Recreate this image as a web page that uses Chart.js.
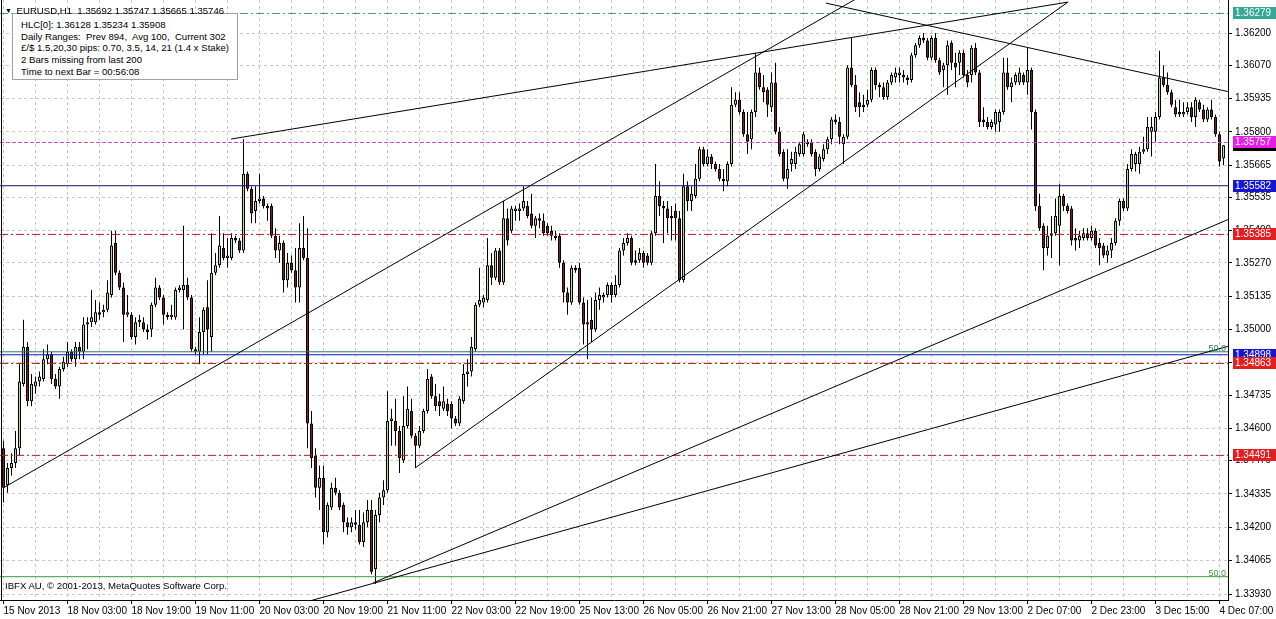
<!DOCTYPE html>
<html>
<head>
<meta charset="utf-8">
<title>EURUSD,H1</title>
<script src="https://cdn.jsdelivr.net/npm/chart.js@4.4.0/dist/chart.umd.min.js"></script>
<style>
  html, body { margin: 0; padding: 0; background: #fff; }
  #wrap { position: relative; width: 1276px; height: 619px; overflow: hidden; }
  #chart { display: block; }
  .txt { position: absolute; font: 9.6px "Liberation Sans", Arial, sans-serif; color: #000; white-space: pre; line-height: 12px; }
  #symbol { left: 5px; top: 5px; }
  #symbol .tri { font-size: 7px; vertical-align: 1px; margin-right: 2px; }
  #infoBox { left: 12px; top: 13px; width: 226px; height: 67px; background: #fff; border: 1px solid #a0a0a0;
             box-sizing: border-box; padding: 5px 0 0 8px; line-height: 11.7px; }
  #copyright { left: 5px; top: 580px; }
</style>
</head>
<body>
<div id="wrap">
  <canvas id="chart" width="1276" height="619"></canvas>
  <div class="txt" id="infoBox">HLC[0]: 1.36128 1.35234 1.35908
Daily Ranges:  Prev 894,  Avg 100,  Current 302
£/$ 1.5,20,30 pips: 0.70, 3.5, 14, 21 (1.4 x Stake)
2 Bars missing from last 200
Time to next Bar = 00:56:08</div>
  <div class="txt" id="symbol"><span class="tri">▼</span> EURUSD,H1  1.35692 1.35747 1.35665 1.35746</div>
  <div class="txt" id="copyright">IBFX AU, © 2001-2013, MetaQuotes Software Corp.</div>
</div>
<script>
// EURUSD H1 bars, 15 Nov 2013 -> 4 Dec 2013
// prices kept as pips above 1.3000 (452 -> 1.3452)
const opens = [
  452,437,444,446,452,478,493,471,477,479, 480,488,490,480,477,484,486,491,488,493,
  491,502,503,503,507,507,508,514,535,523, 517,506,506,497,503,503,500,500,510,517,
  513,506,505,505,516,516,518,513,492,491, 499,509,497,523,526,533,529,529,537,536,
  532,563,557,548,552,553,550,550,538,532, 535,520,527,524,517,533,529,462,449,436,
  440,418,428,436,434,429,422,420,422,421, 414,422,427,403,425,432,435,463,463,459,
  447,461,467,457,453,459,467,481,473,471, 468,470,470,464,462,471,482,483,492,510,
  511,512,526,521,532,519,545,540,548,548, 549,550,547,542,545,544,542,540,538,538,
  527,515,511,525,525,511,502,504,500,512, 513,514,518,514,518,532,535,537,528,528,
  531,530,527,539,554,550,549,546,548,545, 520,558,552,554,561,573,567,570,567,565,
  561,560,567,591,593,588,579,577,588,604, 598,597,590,600,580,572,561,567,567,571,
  571,576,576,572,565,569,573,577,585,584, 575,578,606,599,592,591,591,593,605,599,
  598,594,600,602,603,603,602,601,611,615, 618,617,610,618,609,605,607,616,608,608,
  612,603,603,614,604,585,584,582,583,584, 588,604,598,600,600,603,600,605,588,550,
  542,533,539,539,542,554,550,549,537,536, 537,539,537,540,535,534,530,532,535,544,
  552,549,565,567,567,572,573,580,580,586, 602,599,596,590,588,587,588,590,586,592,
  589,585,589,586,579,569.2
];
const highs = [
  455,446,450,459,486,504,495,482,481,483, 492,494,491,482,485,489,495,492,495,495,
  505,505,516,512,511,510,520,540,540,524, 519,514,507,505,506,505,502,511,521,518,
  514,507,510,517,518,542,521,514,493,505, 509,520,539,531,546,539,537,539,538,537,
  577,564,558,558,563,554,551,551,541,538, 536,531,530,533,543,546,541,467,452,445,
  445,430,438,440,435,430,424,424,427,427, 426,431,431,427,434,439,475,468,472,461,
  473,477,472,458,461,468,484,482,478,474, 477,472,471,465,473,486,488,497,511,525,
  514,537,531,533,533,552,549,550,550,551, 558,552,555,546,547,547,543,542,540,539,
  528,517,526,526,527,513,512,513,515,517, 515,519,519,522,533,537,539,538,532,533,
  532,531,540,567,560,552,552,550,551,548, 563,560,558,567,574,574,573,571,568,567,
  565,568,598,596,596,589,588,589,612,606, 603,598,604,608,582,573,573,572,574,576,
  580,577,577,573,571,575,578,586,587,586, 579,607,618,603,596,595,597,606,606,600,
  600,601,604,606,606,605,603,612,616,619, 620,618,619,620,610,608,617,617,612,613,
  613,605,615,616,605,590,586,585,589,589, 610,610,602,604,606,604,614,606,589,555,
  543,542,546,553,559,555,551,550,541,540, 541,541,542,541,537,535,534,537,545,553,
  553,567,573,572,574,578,586,586,588,612.8, 607,604,597,593,593,592,592,592,594,593,
  591,590,593,587,580,574.7
];
const lows = [
  430,434,441,444,449,477,469,469,474,477, 479,486,478,476,472,483,485,487,485,488,
  488,492,501,502,504,505,507,513,522,516, 495,505,496,494,501,499,496,497,509,512,
  502,504,504,504,515,500,512,491,490,486, 490,490,491,522,525,528,525,528,535,531,
  531,556,543,543,551,549,544,537,529,527, 515,517,523,511,511,528,452,444,432,427,
  413,416,427,433,427,418,417,418,419,413, 412,420,401,397,422,429,434,453,453,442,
  446,460,456,444,452,458,466,472,467,465, 467,465,460,461,461,470,477,481,491,509,
  509,511,518,520,518,518,534,539,544,544, 548,545,541,537,541,538,538,536,536,525,
  511,506,510,523,510,494,488,495,499,508, 511,513,511,513,517,530,534,526,526,527,
  525,526,526,538,546,535,539,536,536,519, 519,548,548,553,560,566,566,565,564,560,
  556,558,566,590,587,578,571,573,586,597, 592,586,588,579,570,560,557,564,565,570,
  570,574,570,562,564,568,571,575,583,575, 567,577,598,588,586,588,590,592,597,594,
  593,593,599,600,600,600,599,600,610,614, 616,609,609,608,603,598,595,605,598,603,
  602,598,600,603,582,582,581,581,580,580, 587,597,592,599,599,599,595,581,548,540,
  524,530,529,538,526,548,547,534,532,533, 536,536,536,533,526,529,527,529,534,542,
  548,548,564,564,563,571,572,570,576,585, 598,595,590,586,586,586,587,584,582,588,
  584,584,585,578,566,566.5
];
const closes = [
  436,444,446,452,479,493,471,478,479,481, 488,490,480,477,484,487,491,488,493,491,
  502,503,505,507,506,508,515,534,523,517, 506,507,497,503,504,500,499,510,517,513,
  506,505,506,516,517,518,513,492,491,499, 508,500,523,526,534,529,530,537,536,532,
  563,557,547,552,553,550,549,538,532,535, 520,527,524,517,533,529,462,448,436,440,
  418,429,436,434,428,422,420,422,421,414, 422,427,402,425,432,435,463,464,459,448,
  461,468,457,453,459,467,480,473,469,469, 471,467,464,462,472,482,483,493,510,512,
  513,526,521,532,519,545,536,549,549,549, 552,546,542,545,544,539,539,538,537,527,
  515,511,525,524,511,502,503,500,512,514, 514,518,514,518,532,535,537,527,527,531,
  527,527,539,554,550,549,545,545,545,520, 558,552,555,561,573,567,570,567,565,561,
  560,567,591,593,588,579,576,588,604,598, 596,591,600,580,571,561,565,569,572,575,
  579,575,571,565,570,573,577,585,584,578, 578,606,599,590,590,590,593,605,599,598,
  594,600,603,604,604,602,601,611,615,618, 617,610,618,609,604,607,615,608,606,612,
  603,600,614,604,584,584,582,584,588,588, 604,598,600,603,604,600,605,588,550,541,
  533,538,538,546,554,550,548,536,536,538, 539,537,540,534,533,530,532,535,544,552,
  549,565,571,571,572,573,582,582,586,602, 599,596,591,587,587,588,590,586,593,589,
  585,589,586,579,568,574.6
];

// time axis, one label every 16 bars
const timeLabels = [
  '15 Nov 2013', '18 Nov 03:00', '18 Nov 19:00', '19 Nov 11:00', '20 Nov 03:00',
  '20 Nov 19:00', '21 Nov 11:00', '22 Nov 03:00', '22 Nov 19:00', '25 Nov 13:00',
  '26 Nov 05:00', '26 Nov 21:00', '27 Nov 13:00', '28 Nov 05:00', '28 Nov 21:00',
  '29 Nov 13:00', '2 Dec 07:00', '2 Dec 23:00', '3 Dec 15:00', '4 Dec 07:00'
];
const priceTicks = [
  1.362, 1.3607, 1.35935, 1.358, 1.35665, 1.35535, 1.354, 1.3527, 1.35135,
  1.35, 1.34865, 1.34735, 1.346, 1.3447, 1.34335, 1.342, 1.34065, 1.3393
];

// horizontal levels (price tags on the right axis)
const levelPrices = [1.36279, 1.35757, 1.35582, 1.35385, 1.34898, 1.34863, 1.34491];
const fibPrices = [1.3491, 1.3400];
const bidPrice = 1.35746;

// trendlines: [bar, price, bar, price]
const trendLines = [
  [56.9, 1.35771, 266.1, 1.36325],
  [-0.1, 1.34359, 214.1, 1.36347],
  [102.9, 1.34440, 266.1, 1.36325],
  [205.6, 1.36321, 306.1, 1.35963],
  [92.4, 1.33975, 306.1, 1.35445],
  [76.6, 1.33902, 306.1, 1.34932]
];

// styles
const levelStyles = [
  { line: '#3a9e8e', tag: '#33a896', dash: [8, 3, 2, 3] },
  { line: '#c050c0', tag: '#e81ee8', dash: [4, 2] },
  { line: '#10107a', tag: '#1414d2', dash: [] },
  { line: '#a81e1e', tag: '#e41e1e', dash: [8, 3, 2, 3] },
  { line: '#1010c8', tag: '#1414d2', dash: [] },
  { line: '#a81e1e', tag: '#e41e1e', dash: [8, 3, 2, 3] },
  { line: '#a81e1e', tag: '#e41e1e', dash: [8, 3, 2, 3] }
];
const fibColors = ['#2f7458', '#3c9a3c'];
const BULL = '#b9dc9c';
const BEAR = '#7d1d1d';
const GRID = '#c8c8c8';
const FONT = '"Liberation Sans", Arial, sans-serif';

const xMin = -0.875, xMax = 306.125;
const yMin = 1.3390573, yMax = 1.3633353;

const toPrice = p => 1.3 + p / 10000;
const isBull = i => closes[i] >= opens[i];

const wickData = closes.map((c, i) => ({ x: i, y: [toPrice(lows[i]), toPrice(highs[i])] }));
const bodyData = closes.map((c, i) => ({ x: i, y: [toPrice(opens[i]), toPrice(c)] }));

const flatLine = (price, color, dash) => ({
  type: 'line',
  data: [{ x: xMin, y: price }, { x: xMax, y: price }],
  borderColor: color,
  borderWidth: 1,
  borderDash: dash,
  pointRadius: 0,
  order: 1
});

const datasets = [
  {
    type: 'bar',
    data: wickData,
    backgroundColor: '#000',
    borderWidth: 0,
    barThickness: 1,
    grouped: false,
    inflateAmount: 0,
    order: 3
  },
  {
    type: 'bar',
    data: bodyData,
    backgroundColor: ctx => isBull(ctx.dataIndex) ? BULL : BEAR,
    borderColor: '#000',
    borderWidth: 1,
    borderSkipped: false,
    barThickness: 3,
    minBarLength: 1,
    grouped: false,
    inflateAmount: 0,
    order: 2
  }
];
fibPrices.forEach((p, i) => datasets.push(flatLine(p, fibColors[i], [])));
levelPrices.forEach((p, i) => datasets.push(flatLine(p, levelStyles[i].line, levelStyles[i].dash)));
trendLines.forEach(t => datasets.push({
  type: 'line',
  data: [{ x: t[0], y: t[1] }, { x: t[2], y: t[3] }],
  borderColor: '#000',
  borderWidth: 1,
  pointRadius: 0,
  order: 0
}));

// left frame, fib labels and the coloured price tags on the axis
const overlayPlugin = {
  id: 'overlay',
  afterDraw(chart) {
    const { ctx, chartArea, scales: { y } } = chart;
    ctx.save();
    ctx.strokeStyle = '#000';
    ctx.lineWidth = 1;
    ctx.beginPath();
    ctx.moveTo(chartArea.left + 1.5, chartArea.top);
    ctx.lineTo(chartArea.left + 1.5, chartArea.bottom);
    ctx.stroke();

    ctx.font = '9px ' + FONT;
    ctx.textAlign = 'right';
    ctx.textBaseline = 'bottom';
    fibPrices.forEach((p, i) => {
      ctx.fillStyle = fibColors[i];
      ctx.fillText('50.0', chartArea.right - 2, y.getPixelForValue(p) + 1);
    });

    ctx.font = '10px ' + FONT;
    ctx.textAlign = 'left';
    ctx.textBaseline = 'middle';
    const tag = (price, bg) => {
      const py = Math.round(y.getPixelForValue(price));
      ctx.fillStyle = bg;
      ctx.fillRect(chartArea.right + 5, py - 6, chart.width - chartArea.right - 5, 12);
      ctx.fillStyle = '#fff';
      ctx.fillText(price.toFixed(5), chartArea.right + 7, py + 0.5);
    };
    tag(bidPrice, '#000');
    levelPrices.forEach((p, i) => tag(p, levelStyles[i].tag));
    ctx.restore();
  }
};

Chart.defaults.font.family = FONT;
Chart.defaults.font.size = 10;
Chart.defaults.color = '#000';

new Chart(document.getElementById('chart'), {
  type: 'bar',
  data: { datasets },
  plugins: [overlayPlugin],
  options: {
    responsive: false,
    animation: false,
    devicePixelRatio: 1,
    events: [],
    layout: { padding: 0 },
    plugins: {
      legend: { display: false },
      tooltip: { enabled: false }
    },
    scales: {
      x: {
        type: 'linear',
        min: xMin,
        max: xMax,
        bounds: 'data',
        offset: false,
        grid: {
          color: GRID,
          offset: false,
          tickLength: 4,
          tickColor: c => (c.tick && c.tick.value % 16 === 0) ? '#000' : 'rgba(0,0,0,0)'
        },
        border: { display: true, color: '#000', dash: [3, 3] },
        ticks: {
          autoSkip: false,
          maxRotation: 0,
          align: 'start',
          padding: 1,
          callback: v => v % 16 === 0 ? timeLabels[v / 16] : ''
        },
        afterBuildTicks: s => {
          s.ticks = [];
          for (let b = 0; b < closes.length; b += 8) s.ticks.push({ value: b });
        },
        afterFit: s => { s.height = 19; s.paddingLeft = 0; s.paddingRight = 0; }
      },
      y: {
        type: 'linear',
        position: 'right',
        min: yMin,
        max: yMax,
        bounds: 'data',
        grid: { color: GRID, tickLength: 4, tickColor: '#000' },
        border: { display: true, color: '#000', dash: [3, 3] },
        ticks: { padding: 3, callback: v => v.toFixed(5) },
        afterBuildTicks: s => { s.ticks = priceTicks.map(v => ({ value: v })); },
        afterFit: s => { s.width = 48; s.paddingTop = 0; s.paddingBottom = 0; }
      }
    }
  }
});
</script>
</body>
</html>
